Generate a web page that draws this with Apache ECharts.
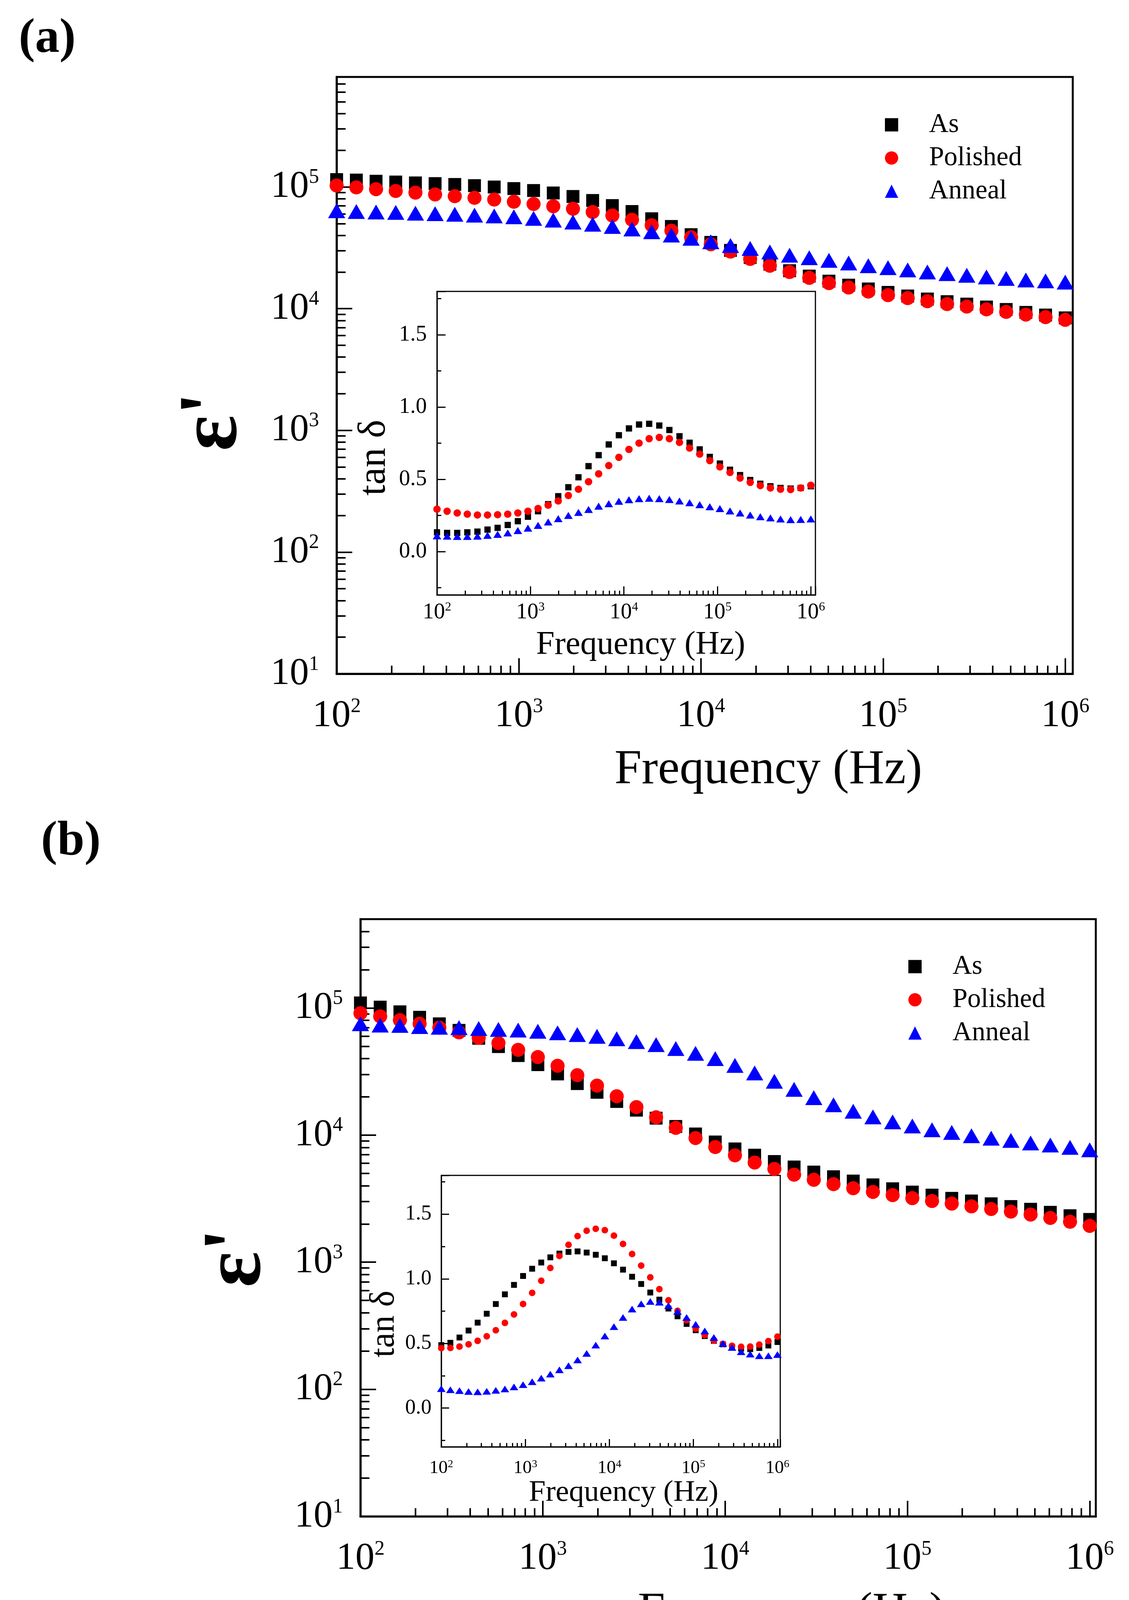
<!DOCTYPE html>
<html>
<head>
<meta charset="utf-8">
<script src="https://cdn.jsdelivr.net/npm/echarts@6/dist/echarts.min.js"></script>
<style>
html,body{margin:0;padding:0;background:#fff;}
#chart{width:2891px;height:4244px;}
</style>
</head>
<body>
<div id="chart"></div>
<script>
// ---------- data ----------
var freq = [100, 128.3, 164.6, 211.1, 270.8, 347.2, 445.3, 571.3, 732.9, 939.7,
  1205.6, 1546.6, 1983.8, 2544.6, 3263.8, 4184.7, 5367, 6884, 8832, 11327,
  14529, 18637, 23906, 30661, 39330, 50450, 64710, 82990, 106430, 136500,
  175100, 224600, 288100, 369600, 474000, 608000, 779900, 1000000];

var seriesNames = ['As', 'Polished', 'Anneal'];

// panel (a) main: dielectric constant
var epsA_As = [114800, 113800, 111200, 109600, 107900, 106400, 104700, 102300, 99800, 96800,
  93300, 89100, 83400, 77300, 70300, 62800, 54700, 47300, 40500, 35000,
  30100, 26300, 23200, 20500, 18500, 16800, 15600, 14500, 13600, 12700,
  12000, 11400, 10900, 10300, 9840, 9310, 8850, 8400];
var epsA_Pol = [102600, 99100, 95700, 92500, 89700, 86700, 83900, 81300, 78700, 75500,
  72400, 69300, 66100, 62200, 58200, 53700, 48400, 43700, 38600, 33800,
  29400, 25600, 22500, 20000, 17900, 16200, 14900, 13800, 12900, 12200,
  11500, 10900, 10400, 9860, 9400, 8930, 8510, 8090];
var epsA_Ann = [63700, 62700, 62200, 61700, 60800, 60300, 59600, 58600, 57700, 56800,
  55100, 53300, 51400, 49400, 47300, 45100, 42800, 40200, 37800, 35400,
  33000, 31200, 29200, 27500, 26200, 24900, 23700, 22500, 21700, 20800,
  20000, 19400, 18800, 18200, 17700, 17200, 16900, 16500];

// panel (a) inset: tan delta
var tanA_As = [0.133, 0.129, 0.129, 0.133, 0.138, 0.152, 0.164, 0.184, 0.210, 0.241,
  0.279, 0.328, 0.383, 0.445, 0.514, 0.591, 0.667, 0.741, 0.805, 0.852,
  0.879, 0.884, 0.872, 0.841, 0.798, 0.753, 0.707, 0.655, 0.609, 0.566,
  0.529, 0.495, 0.469, 0.452, 0.440, 0.436, 0.440, 0.452];
var tanA_Pol = [0.293, 0.279, 0.267, 0.259, 0.253, 0.253, 0.255, 0.259, 0.267, 0.279,
  0.298, 0.321, 0.350, 0.388, 0.431, 0.483, 0.538, 0.595, 0.652, 0.707,
  0.750, 0.781, 0.790, 0.781, 0.755, 0.716, 0.674, 0.629, 0.586, 0.547,
  0.509, 0.479, 0.457, 0.440, 0.431, 0.429, 0.440, 0.459];
var tanA_Ann = [0.109, 0.107, 0.105, 0.105, 0.107, 0.112, 0.119, 0.129, 0.145, 0.162,
  0.181, 0.205, 0.228, 0.250, 0.271, 0.291, 0.314, 0.331, 0.348, 0.359,
  0.366, 0.369, 0.366, 0.360, 0.350, 0.338, 0.324, 0.310, 0.297, 0.281,
  0.267, 0.253, 0.241, 0.233, 0.226, 0.221, 0.222, 0.226];

// panel (b) main: dielectric constant
var epsB_As = [109600, 101600, 93300, 84500, 75000, 66700, 57800, 49700, 42200, 35800,
  30300, 25400, 21700, 18400, 15700, 13600, 11700, 10200, 8830, 7780,
  6950, 6190, 5610, 5120, 4700, 4350, 4060, 3780, 3560, 3370,
  3180, 3030, 2880, 2740, 2610, 2470, 2320, 2170];
var epsB_Pol = [91000, 85900, 80200, 75200, 70100, 64300, 58300, 53000, 46800, 41100,
  35100, 29600, 24500, 20200, 16600, 13800, 11400, 9480, 8050, 6930,
  6080, 5420, 4880, 4450, 4110, 3820, 3570, 3370, 3190, 3030,
  2890, 2750, 2620, 2500, 2370, 2230, 2080, 1930];
var epsB_Ann = [75200, 73300, 72900, 71400, 70600, 70000, 68900, 67900, 67000, 65600,
  63800, 61800, 59800, 57300, 54400, 51500, 48000, 44000, 40000, 35300,
  30800, 26500, 22900, 19700, 17300, 15400, 13900, 12700, 11800, 11000,
  10500, 9890, 9460, 9080, 8670, 8360, 8000, 7660];

// panel (b) inset: tan delta
var tanB_As = [0.487, 0.505, 0.546, 0.600, 0.661, 0.730, 0.805, 0.880, 0.953, 1.022,
  1.078, 1.126, 1.166, 1.195, 1.208, 1.212, 1.203, 1.186, 1.159, 1.120,
  1.071, 1.016, 0.960, 0.894, 0.839, 0.770, 0.710, 0.651, 0.602, 0.557,
  0.520, 0.493, 0.473, 0.460, 0.456, 0.465, 0.484, 0.511];
var tanB_Pol = [0.464, 0.465, 0.476, 0.493, 0.520, 0.555, 0.602, 0.659, 0.724, 0.805,
  0.891, 0.985, 1.084, 1.177, 1.263, 1.330, 1.372, 1.387, 1.376, 1.334,
  1.270, 1.192, 1.102, 1.011, 0.920, 0.834, 0.752, 0.679, 0.615, 0.564,
  0.522, 0.496, 0.482, 0.474, 0.476, 0.491, 0.518, 0.553];
var tanB_Ann = [0.150, 0.142, 0.135, 0.128, 0.126, 0.130, 0.137, 0.148, 0.164, 0.181,
  0.204, 0.232, 0.263, 0.296, 0.328, 0.372, 0.423, 0.487, 0.557, 0.630,
  0.701, 0.766, 0.807, 0.825, 0.819, 0.792, 0.748, 0.701, 0.648, 0.597,
  0.546, 0.500, 0.469, 0.436, 0.418, 0.405, 0.405, 0.414];

var insetTickLabels = ['0.0', '0.5', '1.0', '1.5'];

// ---------- styling ----------
var FONT = "'Liberation Serif', 'Times New Roman', serif";
var colors = {As: '#000000', Polished: '#ff0000', Anneal: '#0000ff'};
var symbols = {As: 'rect', Polished: 'circle', Anneal: 'triangle'};

function pairs(ys) { return freq.map(function (f, i) { return [f, ys[i]]; }); }
function powLabel(v) { var n = Math.round(Math.log10(v)); return '{b|10}{s|' + n + '}'; }
function rich(big, small, lhSmall) {
  return {
    b: {fontFamily: FONT, fontSize: big, color: '#000', lineHeight: Math.round(big * 1.02)},
    s: {fontFamily: FONT, fontSize: small, color: '#000', verticalAlign: 'top', lineHeight: lhSmall}
  };
}

function logX(grid, max, o) {
  return {
    type: 'log', gridIndex: grid, min: 100, max: max, logBase: 10,
    axisLine: {show: true, onZero: false, lineStyle: {color: '#000', width: o.lw}},
    axisTick: {show: true, inside: true, length: o.major, lineStyle: {color: '#000', width: o.tw}},
    minorTick: {show: true, splitNumber: 9, length: o.minor, lineStyle: {color: '#000', width: o.tw}},
    splitLine: {show: false}, minorSplitLine: {show: false},
    axisLabel: {show: true, margin: o.margin, formatter: powLabel, rich: rich(o.fb, o.fs, o.lhs),
      showMaxLabel: false, showMinLabel: true},
    name: 'Frequency (Hz)', nameLocation: 'middle', nameGap: o.nameGap,
    nameTextStyle: {fontFamily: FONT, fontSize: o.nameSize, color: '#000', padding: [0, 0, 0, o.shift]}
  };
}
function logY(grid, max, o) {
  return {
    type: 'log', gridIndex: grid, min: 10, max: max, logBase: 10,
    axisLine: {show: true, onZero: false, lineStyle: {color: '#000', width: o.lw}},
    axisTick: {show: true, inside: true, length: o.major, lineStyle: {color: '#000', width: o.tw}},
    minorTick: {show: true, splitNumber: 9, length: o.minor, lineStyle: {color: '#000', width: o.tw}},
    splitLine: {show: false}, minorSplitLine: {show: false},
    axisLabel: {show: true, margin: o.margin, formatter: powLabel, rich: rich(o.fb, o.fs, o.lhs),
      showMaxLabel: false, showMinLabel: true},
    name: "ε'", nameLocation: 'middle', nameGap: o.nameGap,
    nameTextStyle: {fontFamily: FONT, fontSize: o.nameSize, fontWeight: 'bold', color: '#000', padding: [0, o.shift, 0, 0]}
  };
}
function linY(grid, o) {
  return {
    type: 'value', gridIndex: grid, min: -0.3, max: 1.8, splitNumber: 4,
    axisLine: {show: true, onZero: false, lineStyle: {color: '#000', width: o.lw}},
    axisTick: {show: true, inside: true, length: o.major, lineStyle: {color: '#000', width: o.tw}},
    minorTick: {show: true, splitNumber: 2, length: o.minor, lineStyle: {color: '#000', width: o.tw}},
    splitLine: {show: false}, minorSplitLine: {show: false},
    axisLabel: {show: true, margin: o.margin, fontFamily: FONT, fontSize: o.fb, color: '#000',
      showMinLabel: false, showMaxLabel: false,
      formatter: function (v) { var k = Math.round(v * 2); return (k >= 0 && k < insetTickLabels.length) ? insetTickLabels[k] : ''; }},
    name: 'tan δ', nameLocation: 'middle', nameGap: o.nameGap,
    nameTextStyle: {fontFamily: FONT, fontSize: o.nameSize, color: '#000', padding: [0, o.shift, 0, 0]}
  };
}

function makeSeries(grid, sets, sizes, z) {
  return seriesNames.map(function (n, k) {
    return {
      name: n, type: 'scatter', xAxisIndex: grid, yAxisIndex: grid,
      data: pairs(sets[k]), symbol: symbols[n], symbolSize: sizes[k],
      itemStyle: {color: colors[n], opacity: 1}, z: z, clip: false,
      emphasis: {disabled: true}
    };
  });
}

var mainX = {lw: 5, tw: 4, major: 40, minor: 21, margin: 58, fb: 98, fs: 52, lhs: 34, nameGap: 185, nameSize: 125, shift: 326};
var mainY = {lw: 5, tw: 4, major: 40, minor: 23, margin: 45, fb: 98, fs: 52, lhs: 34, nameGap: 206, nameSize: 215};
var insAX = {lw: 3, tw: 3, major: 22, minor: 11, margin: 16, fb: 57, fs: 32, lhs: 20, nameGap: 86, nameSize: 85, shift: 74};
var insAY = {lw: 3, tw: 3, major: 22, minor: 11, margin: 26, fb: 57, nameGap: 110, nameSize: 100, shift: 74};
var insBX = {lw: 3, tw: 3, major: 20, minor: 10, margin: 31, fb: 47, fs: 28, lhs: 17, nameGap: 78, nameSize: 77, shift: 66};
var insBY = {lw: 3, tw: 3, major: 20, minor: 10, margin: 25, fb: 54, nameGap: 101, nameSize: 88, shift: 66};

var legendCommon = {
  orient: 'vertical', padding: 0, itemGap: 16, itemWidth: 34, itemHeight: 34,
  selectedMode: false,
  data: seriesNames.map(function (n) { return {name: n, icon: symbols[n]}; }),
  textStyle: {fontFamily: FONT, fontSize: 69, color: '#000', lineHeight: 69, padding: [0, 0, 0, 74]}
};

var option = {
  animation: false,
  backgroundColor: '#ffffff',
  title: [
    {text: '(a)', left: 48, top: 38, padding: 0, textStyle: {fontFamily: FONT, fontWeight: 'bold', fontSize: 125, color: '#000'}},
    {text: '(b)', left: 105, top: 2093, padding: 0, textStyle: {fontFamily: FONT, fontWeight: 'bold', fontSize: 125, color: '#000'}}
  ],
  legend: [
    Object.assign({}, legendCommon, {left: 2266, top: 285}),
    Object.assign({}, legendCommon, {left: 2326, top: 2440})
  ],
  grid: [
    {left: 862, top: 197, width: 1885, height: 1528, show: true, borderColor: '#000', borderWidth: 5, backgroundColor: 'transparent'},
    {left: 1119, top: 746, width: 969, height: 777, show: true, borderColor: '#000', borderWidth: 3, backgroundColor: 'transparent'},
    {left: 923, top: 2353, width: 1883, height: 1529, show: true, borderColor: '#000', borderWidth: 5, backgroundColor: 'transparent'},
    {left: 1130, top: 3009, width: 868, height: 695, show: true, borderColor: '#000', borderWidth: 3, backgroundColor: 'transparent'}
  ],
  xAxis: [
    logX(0, 1.1e6, mainX),
    logX(1, 1.12e6, insAX),
    logX(2, 1.08e6, mainX),
    logX(3, 1.08e6, insBX)
  ],
  yAxis: [
    Object.assign(logY(0, 8e5, mainY), {nameTextStyle: {fontFamily: FONT, fontSize: 215, fontWeight: 'bold', color: '#000', padding: [0, 236, 0, 0]}}),
    linY(1, insAY),
    Object.assign(logY(2, 5e5, mainY), {nameTextStyle: {fontFamily: FONT, fontSize: 215, fontWeight: 'bold', color: '#000', padding: [0, 205, 0, 0]}}),
    linY(3, insBY)
  ],
  series: []
    .concat(makeSeries(0, [epsA_As, epsA_Pol, epsA_Ann], [33, 36, [44, 38]], 2))
    .concat(makeSeries(1, [tanA_As, tanA_Pol, tanA_Ann], [16, 19, [22, 18]], 3))
    .concat(makeSeries(2, [epsB_As, epsB_Pol, epsB_Ann], [33, 36, [44, 38]], 2))
    .concat(makeSeries(3, [tanB_As, tanB_Pol, tanB_Ann], [15, 17, [22, 17]], 3))
};

var chart = echarts.init(document.getElementById('chart'), null, {renderer: 'canvas', width: 2891, height: 4244});
chart.setOption(option);
</script>
</body>
</html>
